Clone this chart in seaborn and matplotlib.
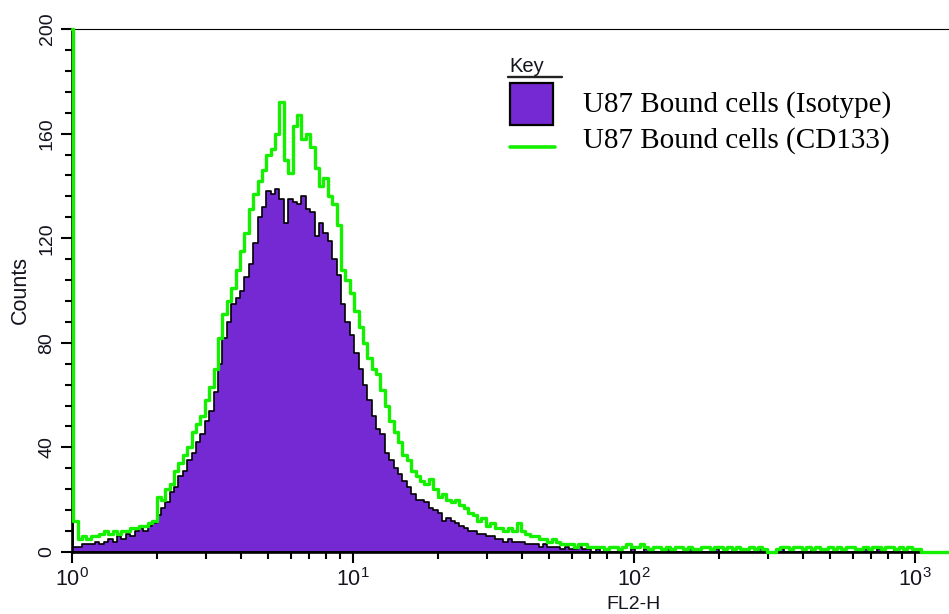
import numpy as np
import pandas as pd
import matplotlib
matplotlib.use("Agg")
import matplotlib.pyplot as plt
import seaborn as sns
from matplotlib.ticker import LogLocator, LogFormatterSciNotation, NullFormatter, MultipleLocator
from matplotlib.patches import Rectangle
from matplotlib.lines import Line2D

# ---- channel grid (log10 of FL2-H): narrow first channel at 10^0, then 1/64-decade channels
first_channel_edge = 0.004
decade_bins = 64
n_bins = 200

# ---- counts per channel (channel 0 = pile-up at the lower limit)
isotype_counts = [
    200,
    2, 2, 3, 3, 3, 4, 3, 4, 5, 4,
    6, 5, 7, 6, 8, 9, 8, 10, 11, 14,
    17, 19, 23, 25, 29, 31, 35, 38, 42, 45,
    50, 54, 61, 72, 82, 88, 95, 97, 100, 105,
    110, 118, 128, 132, 138, 137, 139, 135, 126, 135,
    134, 133, 136, 131, 130, 121, 126, 122, 119, 112,
    106, 95, 88, 83, 76, 70, 64, 58, 52, 47,
    45, 38, 35, 32, 30, 27, 25, 22, 20, 20,
    19, 17, 16, 15, 12, 13, 12, 11, 10, 9,
    8, 8, 7, 7, 6, 6, 5, 5, 4, 5,
    4, 4, 4, 3, 3, 3, 2, 3, 2, 2,
    2, 1, 2, 1, 1, 2, 1, 1, 0, 1,
    0, 1, 0, 0, 1, 0, 0, 1, 0, 0,
    1, 0, 0, 0, 0, 1, 0, 0, 0, 0,
    1, 0, 0, 0, 0, 0, 1, 0, 0, 0,
    1, 0, 0, 0, 0, 0, 1, 0, 0, 0,
    0, 1, 0, 0, 0, 0, 0, 0, 1, 0,
    0, 0, 0, 0, 0, 0, 0, 0, 0, 0,
    1, 0, 0, 1, 0, 0, 0, 1, 0, 0,
    0, 0, 0, 0, 0, 0, 0, 0, 0, 0,
]
cd133_counts = [
    200,
    12, 5, 6, 5, 6, 6, 7, 8, 7, 8,
    7, 8, 8, 9, 9, 10, 10, 11, 12, 21,
    20, 24, 26, 31, 34, 37, 40, 46, 49, 52,
    58, 63, 70, 82, 91, 96, 101, 108, 115, 122,
    131, 137, 142, 146, 152, 154, 160, 172, 150, 145,
    163, 167, 158, 160, 155, 147, 140, 143, 136, 133,
    125, 108, 104, 99, 92, 86, 80, 74, 70, 68,
    62, 56, 50, 46, 42, 37, 35, 31, 29, 27,
    26, 28, 24, 21, 22, 20, 19, 20, 18, 17,
    15, 14, 12, 13, 10, 11, 9, 9, 8, 9,
    8, 11, 8, 7, 6, 6, 5, 5, 4, 5,
    4, 3, 3, 3, 2, 3, 3, 2, 2, 2,
    2, 1, 2, 2, 1, 2, 3, 2, 2, 3,
    2, 1, 2, 2, 1, 2, 1, 2, 2, 1,
    2, 1, 1, 2, 2, 1, 2, 2, 1, 2,
    1, 2, 1, 1, 2, 1, 2, 1, 0, 0,
    1, 2, 2, 1, 2, 2, 1, 2, 1, 2,
    1, 1, 2, 1, 2, 1, 2, 2, 1, 1,
    2, 1, 2, 2, 1, 2, 2, 1, 2, 1,
    2, 1, 1, 0, 0, 0, 0, 0, 0, 0,
]

series_labels = ["U87 Bound cells (Isotype)", "U87 Bound cells (CD133)"]
y_ticks = [0, 40, 80, 120, 160, 200]

purple = "#7429D2"
green = "#14F000"
ink = "#14141f"

log_edges = np.concatenate([[0.0], first_channel_edge + np.arange(n_bins + 1) / decade_bins])
log_mid = 0.5 * (log_edges[:-1] + log_edges[1:])
bin_list = [float(e) for e in log_edges]
df = pd.DataFrame({
    "fl2h": 10 ** log_mid,
    "isotype": isotype_counts,
    "cd133": cd133_counts,
})

sns.set_style("ticks")
plt.rcParams["font.family"] = ["Liberation Sans", "DejaVu Sans"]
plt.rcParams["mathtext.fontset"] = "custom"
plt.rcParams["mathtext.rm"] = "Liberation Sans"
plt.rcParams["mathtext.it"] = "Liberation Sans"
plt.rcParams["mathtext.bf"] = "Liberation Sans"

W, H = 949, 614
fig = plt.figure(figsize=(W / 100, H / 100), dpi=100)
ax = fig.add_axes([72 / W, 62 / H, 1 - 72 / W, 523 / H])

sns.histplot(data=df, x="fl2h", weights="isotype", bins=bin_list, log_scale=True,
             element="step", fill=True, color=purple, alpha=1,
             edgecolor="black", linewidth=1.2, ax=ax)
sns.histplot(data=df, x="fl2h", weights="cd133", bins=bin_list, log_scale=True,
             element="step", fill=False, color=green, linewidth=2.4, ax=ax,
             zorder=2.6, clip_on=False)

ax.set_xlim(1, 10 ** (877 / 281))
ax.set_ylim(0, 200)

# axes frame
for side in ("left", "bottom"):
    ax.spines[side].set_linewidth(1.9)
    ax.spines[side].set_color("black")
ax.spines["top"].set_linewidth(0.8)
ax.spines["top"].set_color("black")
ax.spines["right"].set_visible(False)

ax.xaxis.set_major_locator(LogLocator(base=10, numticks=10))
ax.xaxis.set_minor_locator(LogLocator(base=10, subs=np.arange(2, 10), numticks=20))
ax.xaxis.set_major_formatter(LogFormatterSciNotation())
ax.xaxis.set_minor_formatter(NullFormatter())
ax.yaxis.set_major_locator(MultipleLocator(40))
ax.yaxis.set_minor_locator(MultipleLocator(8))
ax.set_yticks(y_ticks)

ax.tick_params(axis="both", which="major", direction="out", length=7.8, width=1.5,
               color="black", labelcolor=ink)
ax.tick_params(axis="both", which="minor", direction="out", length=5.0, width=1.5, color="black")
ax.tick_params(axis="x", which="major", labelsize=15.5, pad=4)
ax.tick_params(axis="y", which="major", labelsize=14, pad=4)
ax.tick_params(axis="y", which="both", right=False)
ax.tick_params(axis="x", which="both", top=False)
for lab in ax.get_yticklabels():
    lab.set_rotation(90)
    lab.set_verticalalignment("center")

ax.set_ylabel("Counts", fontsize=15.5, color=ink)
ax.yaxis.set_label_coords(-0.047, 0.5)
ax.set_xlabel("FL2-H", fontsize=14, color=ink)
ax.xaxis.set_label_coords((634 - 72) / 877, (552 - 613) / 523)
ax.xaxis.label.set_verticalalignment("bottom")

# key
def fx(px):
    return px / W

def fy(py):
    return 1 - py / H

fig.text(fx(509), fy(72), "Key", fontsize=14.5, color=ink, ha="left", va="baseline")
fig.add_artist(Line2D([fx(508), fx(562)], [fy(77), fy(77)], color="#222222", lw=1.7))
fig.add_artist(Rectangle((fx(510), fy(125)), fx(43), 42 / H, facecolor=purple,
                         edgecolor="black", lw=1.6))
fig.add_artist(Line2D([fx(510), fx(555)], [fy(147), fy(147)], color=green, lw=2.6))
serif = ["Liberation Serif", "DejaVu Serif"]
fig.text(fx(583), fy(112), series_labels[0], fontsize=21, family=serif, color="black",
         ha="left", va="baseline")
fig.text(fx(583), fy(148), series_labels[1], fontsize=21, family=serif, color="black",
         ha="left", va="baseline")

fig.savefig("out.png", dpi=100)
